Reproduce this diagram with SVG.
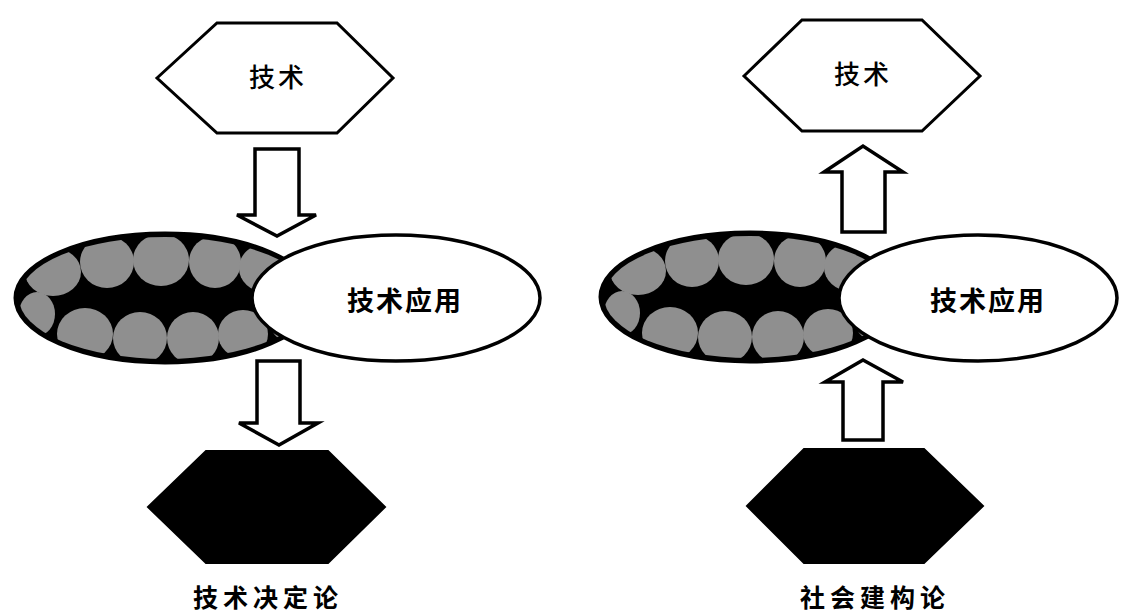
<svg xmlns="http://www.w3.org/2000/svg" width="1122" height="615" viewBox="0 0 1122 615">
  <style>
    .hex { fill: #fff; stroke: #000; stroke-width: 3; stroke-linejoin: miter; }
    .hex-dark { fill: #000; stroke: #000; stroke-width: 2; }
    .arrow { fill: #fff; stroke: #000; stroke-width: 3.5; stroke-linejoin: miter; }
    .oval { fill: #fff; stroke: #000; stroke-width: 3.5; }
    .shade { fill: #000; stroke: #000; stroke-width: 3; }
    .cell { fill: #8f8f8f; }
    .label { font-family: "Noto Sans CJK SC", "Noto Sans", sans-serif; fill: #000; text-anchor: middle; }
    .hex-label { font-size: 26px; font-weight: 500; letter-spacing: 3px; }
    .oval-label { font-size: 27px; font-weight: bold; letter-spacing: 2px; }
    .caption { font-size: 25px; font-weight: bold; letter-spacing: 5px; }
  </style>
  <defs>
    <clipPath id="clipL"><ellipse cx="165" cy="298" rx="146" ry="61"/></clipPath>
    <clipPath id="clipR"><ellipse cx="750" cy="297" rx="146" ry="61"/></clipPath>
    <!-- mottled interior: two rows of grey cells over black -->
    <g id="cells">
      <ellipse class="cell" cx="-112" cy="-26" rx="28" ry="24"/>
      <ellipse class="cell" cx="-58" cy="-36" rx="27" ry="26"/>
      <ellipse class="cell" cx="-4" cy="-38" rx="28" ry="26"/>
      <ellipse class="cell" cx="50" cy="-36" rx="26" ry="26"/>
      <ellipse class="cell" cx="100" cy="-30" rx="26" ry="24"/>
      <ellipse class="cell" cx="-128" cy="16" rx="18" ry="22"/>
      <ellipse class="cell" cx="-80" cy="36" rx="28" ry="26"/>
      <ellipse class="cell" cx="-25" cy="40" rx="27" ry="26"/>
      <ellipse class="cell" cx="28" cy="40" rx="26" ry="26"/>
      <ellipse class="cell" cx="78" cy="36" rx="25" ry="24"/>
      <ellipse class="cell" cx="124" cy="20" rx="20" ry="24"/>
    </g>
  </defs>

  <!-- left panel: technological determinism -->
  <g id="left-panel">
    <g id="left-tech">
      <polygon class="hex" points="157,78 217,23 337,23 393,78 337,133 217,133"/>
      <text class="label hex-label" x="278" y="87">技术</text>
    </g>
    <g id="left-innovation">
      <ellipse class="shade" cx="165" cy="298" rx="150" ry="65"/>
      <g clip-path="url(#clipL)"><use href="#cells" transform="translate(165,298)"/></g>
    </g>
    <g id="left-application">
      <ellipse class="oval" cx="396" cy="298" rx="144" ry="63"/>
      <text class="label oval-label" x="405" y="311">技术应用</text>
    </g>
    <g id="left-society">
      <polygon class="hex-dark" points="148,507 206,451 328,451 385,507 328,563 206,563"/>
    </g>
    <g id="left-caption">
      <text class="label caption" x="268" y="607">技术决定论</text>
    </g>
  </g>

  <!-- right panel: social construction -->
  <g id="right-panel">
    <g id="right-tech">
      <polygon class="hex" points="744,76 802,20 922,20 980,76 922,131 802,131"/>
      <text class="label hex-label" x="863" y="84">技术</text>
    </g>
    <g id="right-innovation">
      <ellipse class="shade" cx="750" cy="297" rx="150" ry="65"/>
      <g clip-path="url(#clipR)"><use href="#cells" transform="translate(750,297)"/></g>
    </g>
    <g id="right-application">
      <ellipse class="oval" cx="978" cy="298" rx="139" ry="63"/>
      <text class="label oval-label" x="988" y="311">技术应用</text>
    </g>
    <g id="right-society">
      <polygon class="hex-dark" points="747,506 804,449 924,449 983,506 924,563 804,563"/>
    </g>
    <g id="right-caption">
      <text class="label caption" x="875" y="607">社会建构论</text>
    </g>
  </g>

  <!-- block arrows -->
  <g id="connectors">
    <path class="arrow" d="M255,149 H299 V215 H316 L277,236 L237,215 H255 Z"/>
    <path class="arrow" d="M257,361 H300 V423 H318 L279,445 L239,423 H257 Z"/>
    <path class="arrow" d="M842,232 V172 H824 L863,146 L903,172 H885 V232 Z"/>
    <path class="arrow" d="M843,440 V382 H825 L863,360 L903,382 H883 V440 Z"/>
  </g>
</svg>
